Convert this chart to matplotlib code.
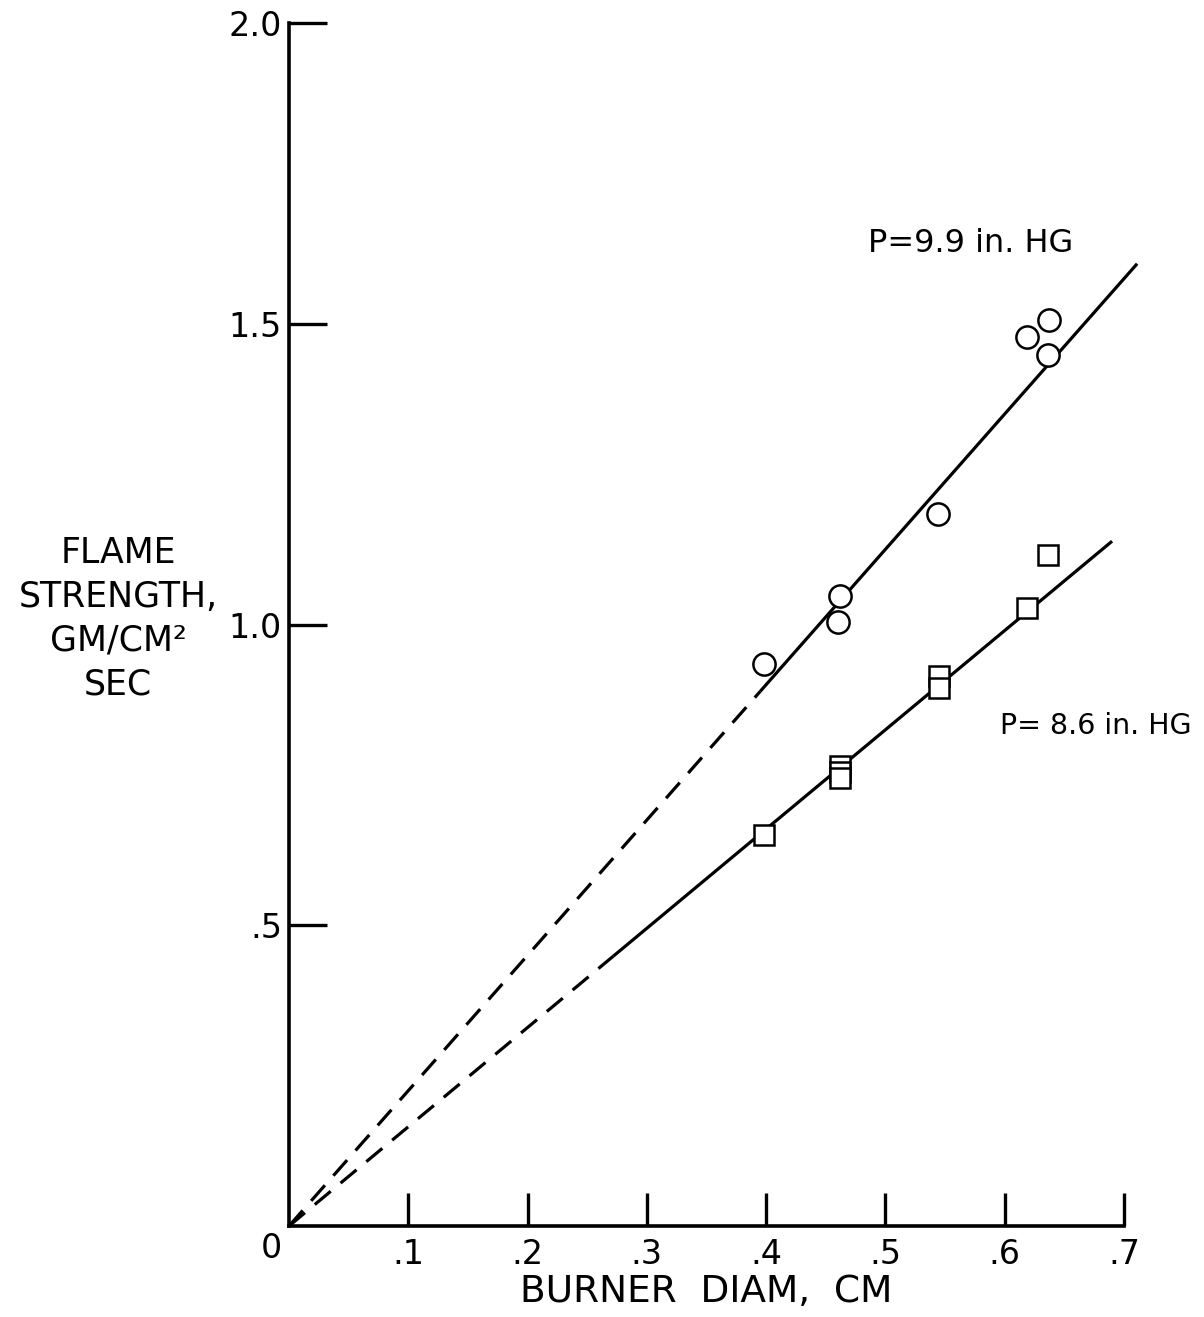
import numpy as np
import matplotlib
matplotlib.use("Agg")
import matplotlib.pyplot as plt

# data
# P = 9.9 in. HG (circles)
diam_99 = [0.398, 0.462, 0.460, 0.544, 0.619, 0.637, 0.636]
flame_99 = [0.934, 1.047, 1.004, 1.184, 1.478, 1.506, 1.448]
# P = 8.6 in. HG (squares)
diam_86 = [0.398, 0.462, 0.462, 0.462, 0.545, 0.545, 0.619, 0.636]
flame_86 = [0.650, 0.765, 0.755, 0.745, 0.915, 0.895, 1.027, 1.115]

# fitted lines through origin: slope, end of dashed part, end of solid part
slope_99, dash_end_99, solid_end_99 = 2.25, 0.395, 0.711
slope_86, dash_end_86, solid_end_86 = 1.65, 0.272, 0.690

xticks = [0.1, 0.2, 0.3, 0.4, 0.5, 0.6, 0.7]
xtick_labels = [".1", ".2", ".3", ".4", ".5", ".6", ".7"]
yticks = [0.5, 1.0, 1.5, 2.0]
ytick_labels = [".5", "1.0", "1.5", "2.0"]

plt.rcParams['font.family'] = ['DejaVu Sans']

W, H = 1204, 1317
fig = plt.figure(figsize=(W / 100, H / 100), dpi=100)
x0, x1, y0, y1 = 289, 1124, 1226, 23
ax = fig.add_axes([x0 / W, (H - y0) / H, (x1 - x0) / W, (y0 - y1) / H])
ax.set_xlim(0, 0.7)
ax.set_ylim(0, 2.0)

for s in ['top', 'right']:
    ax.spines[s].set_visible(False)
for s in ['left', 'bottom']:
    ax.spines[s].set_linewidth(2.6)

ax.set_xticks(xticks)
ax.set_xticklabels(xtick_labels)
ax.set_yticks(yticks)
ax.set_yticklabels(ytick_labels)
ax.tick_params(axis='x', direction='in', length=24, width=2.4, pad=9, labelsize=24)
ax.tick_params(axis='y', direction='in', length=27, width=2.4, pad=5, labelsize=24)
ax.text(-0.006, -0.01, "0", ha='right', va='top', fontsize=24)

lk = dict(color='black', lw=2.3, clip_on=False, solid_capstyle='butt')
for slope, d_end, s_end in [(slope_99, dash_end_99, solid_end_99),
                            (slope_86, dash_end_86, solid_end_86)]:
    xd = np.array([0, d_end])
    ax.plot(xd, slope * xd, linestyle=(0, (6.5, 4)), **lk)
    xs = np.array([d_end, s_end])
    ax.plot(xs, slope * xs, **lk)

ax.plot(diam_99, flame_99, 'o', ms=16, mfc='white', mec='black', mew=1.8,
        zorder=5, clip_on=False)
ax.plot(diam_86, flame_86, 's', ms=15, mfc='white', mec='black', mew=1.8,
        zorder=5, clip_on=False)

ax.text(0.485, 1.634, "P=9.9 in. HG", fontsize=23, va='center', ha='left')
ax.text(0.596, 0.831, "P= 8.6 in. HG", fontsize=20.5, va='center', ha='left')

ax.set_xlabel("BURNER  DIAM,  CM", fontsize=27, labelpad=2)
fig.text(118 / W, 1 - 619 / H, "FLAME\nSTRENGTH,\nGM/CM²\nSEC",
         ha='center', va='center', multialignment='center', fontsize=25,
         linespacing=1.36)

fig.savefig("out.png", dpi=100)
